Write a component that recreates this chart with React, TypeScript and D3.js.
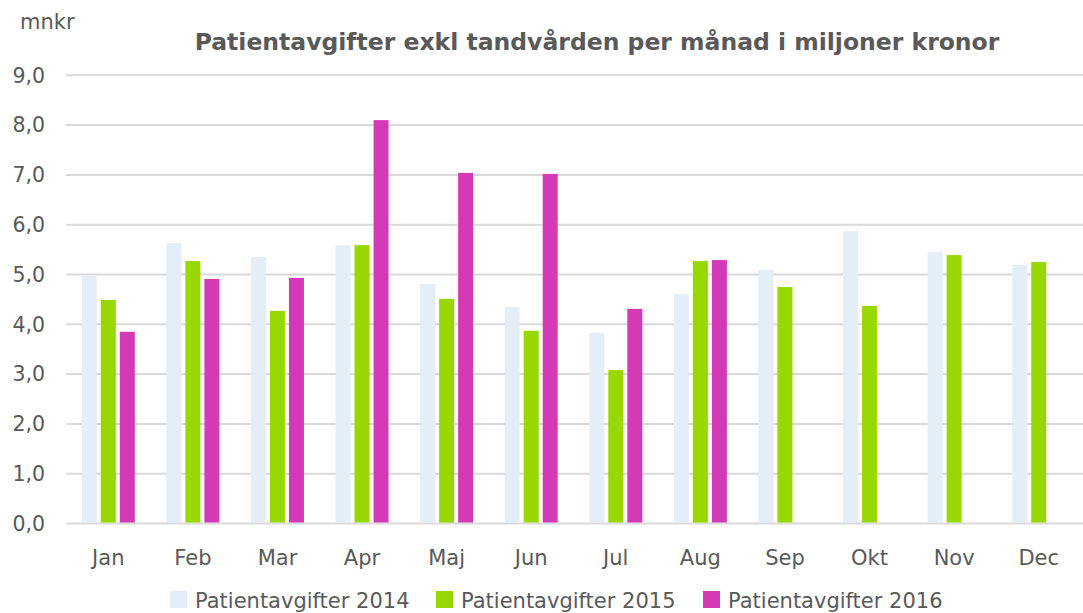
import { useEffect, useRef } from 'react';
import * as d3 from 'd3';

const months = ['Jan', 'Feb', 'Mar', 'Apr', 'Maj', 'Jun', 'Jul', 'Aug', 'Sep', 'Okt', 'Nov', 'Dec'];
const seriesNames = ['Patientavgifter 2014', 'Patientavgifter 2015', 'Patientavgifter 2016'];
const values2014 = [4.97, 5.63, 5.35, 5.59, 4.81, 4.35, 3.83, 4.61, 5.09, 5.87, 5.45, 5.19];
const values2015 = [4.49, 5.27, 4.27, 5.59, 4.51, 3.87, 3.08, 5.27, 4.75, 4.37, 5.39, 5.25];
const values2016 = [3.85, 4.91, 4.93, 8.1, 7.04, 7.02, 4.31, 5.29, null, null, null, null];
const yTicks = [0, 1, 2, 3, 4, 5, 6, 7, 8, 9];
const colors = ['#e4eef8', '#99d700', '#d43ab6'];

const W = 1083;
const H = 613;
const margin = { top: 75.3, right: 2, bottom: 89.5, left: 66 };
const textColor = '#595959';
const font = '"DejaVu Sans", Verdana, sans-serif';

export default function App() {
  const svgRef = useRef<SVGSVGElement>(null);

  useEffect(() => {
    if (!svgRef.current) return;
    const svg = d3.select(svgRef.current);
    svg.selectAll('*').remove();

    const x0 = d3.scaleBand<string>()
      .domain(months)
      .range([margin.left, W - margin.right])
      .paddingInner(0.373)
      .paddingOuter(0.1865);

    const x1 = d3.scaleBand<number>()
      .domain([0, 1, 2])
      .range([0, x0.bandwidth()])
      .paddingInner(0.211);

    const y = d3.scaleLinear().domain([0, 9]).range([H - margin.bottom, margin.top]);

    // gridlines
    svg.append('g')
      .selectAll('line')
      .data(yTicks)
      .join('line')
      .attr('x1', margin.left)
      .attr('x2', W)
      .attr('y1', (d) => y(d))
      .attr('y2', (d) => y(d))
      .attr('stroke', '#d9d9d9')
      .attr('stroke-width', 2);

    // y labels
    svg.append('g')
      .selectAll('text')
      .data(yTicks)
      .join('text')
      .attr('x', 45)
      .attr('y', (d) => y(d))
      .attr('dy', '0.36em')
      .attr('text-anchor', 'end')
      .attr('fill', textColor)
      .style('font-family', font)
      .style('font-size', '20.5px')
      .text((d) => d.toFixed(1).replace('.', ','));

    const series = [values2014, values2015, values2016];
    series.forEach((vals, si) => {
      svg.append('g')
        .selectAll('rect')
        .data(months.map((m, i) => ({ m, v: vals[i] })).filter((d) => d.v != null))
        .join('rect')
        .attr('x', (d) => (x0(d.m) as number) + (x1(si) as number))
        .attr('width', x1.bandwidth())
        .attr('y', (d) => y(d.v as number))
        .attr('height', (d) => y(0) - y(d.v as number) - 1)
        .attr('fill', colors[si]);
    });

    // x labels
    svg.append('g')
      .selectAll('text')
      .data(months)
      .join('text')
      .attr('x', (d) => (x0(d) as number) + x0.bandwidth() / 2)
      .attr('y', 565)
      .attr('text-anchor', 'middle')
      .attr('fill', textColor)
      .style('font-family', font)
      .style('font-size', '21px')
      .text((d) => d);

    svg.append('text')
      .attr('x', 20)
      .attr('y', 29)
      .attr('fill', textColor)
      .style('font-family', font)
      .style('font-size', '21px')
      .text('mnkr');

    svg.append('text')
      .attr('x', 597)
      .attr('y', 50)
      .attr('text-anchor', 'middle')
      .attr('fill', textColor)
      .style('font-family', font)
      .style('font-size', '23.5px')
      .style('font-weight', 'bold')
      .text('Patientavgifter exkl tandvården per månad i miljoner kronor');

    // legend
    const legendX = [170, 436, 703];
    const legend = svg.append('g');
    seriesNames.forEach((name, i) => {
      legend.append('rect')
        .attr('x', legendX[i])
        .attr('y', 591)
        .attr('width', 17)
        .attr('height', 17)
        .attr('fill', colors[i]);
      legend.append('text')
        .attr('x', legendX[i] + 25)
        .attr('y', 608)
        .attr('fill', textColor)
        .style('font-family', font)
        .style('font-size', '21px')
        .text(name);
    });
  }, []);

  return (
    <svg
      ref={svgRef}
      width={W}
      height={H}
      style={{ position: 'absolute', left: 0, top: 0, background: '#fff' }}
    />
  );
}
